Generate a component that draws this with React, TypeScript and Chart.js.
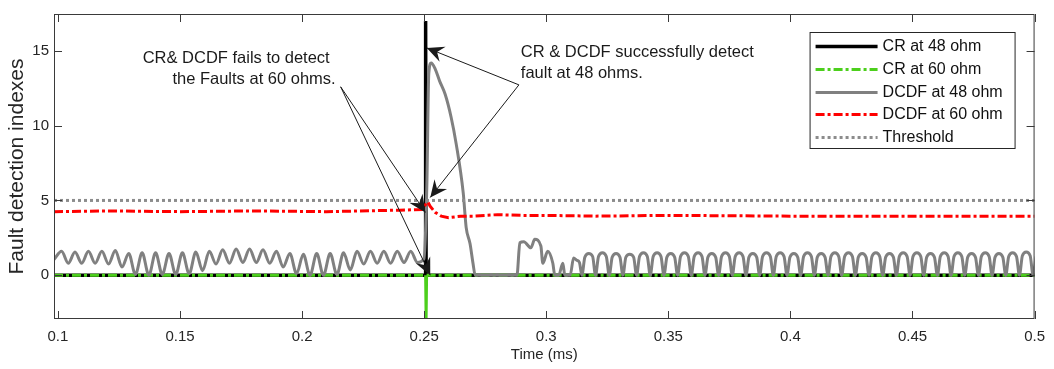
import React, { useEffect, useRef } from "react";
import { Chart, registerables } from "chart.js";

Chart.register(...registerables);

const X_MIN = 0.0984;
const X_MAX = 0.5;
const Y_MIN = -2.93;
const Y_MAX = 17.47;

const xTicks = [0.1, 0.15, 0.2, 0.25, 0.3, 0.35, 0.4, 0.45, 0.5];
const yTicks = [0, 5, 10, 15];

const seriesNames = ["CR at 48 ohm", "CR at 60 ohm", "DCDF at 48 ohm", "DCDF at 60 ohm", "Threshold"];

const cr48T = [0.0984, 0.2504, 0.2506, 0.2508, 0.5];
const cr48V = [0, 0, 17.0, 0, 0];

const cr60T = [0.0984, 0.2506, 0.2508, 0.251, 0.5];
const cr60V = [0, 0, -2.9, 0, 0];

const dcdf48T = [
  0.0984, 0.1015, 0.10425, 0.107, 0.10975, 0.1125, 0.11525, 0.118, 0.12075, 0.1235, 0.12625,
  0.129, 0.13175, 0.1345, 0.13725, 0.14, 0.14275, 0.1455, 0.14825, 0.151, 0.15375,
  0.1565, 0.15925, 0.162, 0.16475, 0.1675, 0.17025, 0.173, 0.17575, 0.1785, 0.18125,
  0.184, 0.18675, 0.1895, 0.19225, 0.195, 0.19775, 0.2005, 0.20325, 0.206, 0.20875,
  0.2115, 0.21425, 0.217, 0.21975, 0.2225, 0.22525, 0.228, 0.23075, 0.2335, 0.23625,
  0.239, 0.24175, 0.2445, 0.24725,
  0.2499, 0.2511, 0.2519, 0.2529, 0.2545, 0.2563, 0.2586, 0.261, 0.2631, 0.266, 0.2672,
  0.2688, 0.27, 0.2709, 0.288,
  0.2892, 0.2908, 0.2937, 0.2953, 0.2978, 0.2986, 0.3006, 0.3027, 0.3035, 0.3051,
  0.3068, 0.3076, 0.3098, 0.3112, 0.3125, 0.3136,
  0.3146, 0.3158, 0.3174, 0.319,
  0.3202, 0.3214, 0.323, 0.3246,
  0.3258, 0.327, 0.3286, 0.3302,
  0.3314, 0.3326, 0.3342, 0.3358,
  0.337, 0.3382, 0.3398, 0.3414,
  0.3426, 0.3438, 0.3454, 0.347,
  0.3482, 0.3494, 0.351, 0.3526,
  0.3538, 0.355, 0.3566, 0.3582,
  0.3594, 0.3606, 0.3622, 0.3638,
  0.365, 0.3662, 0.3678, 0.3694,
  0.3706, 0.3718, 0.3734, 0.375,
  0.3762, 0.3774, 0.379, 0.3806,
  0.3818, 0.383, 0.3846, 0.3862,
  0.3874, 0.3886, 0.3902, 0.3918,
  0.393, 0.3942, 0.3958, 0.3974,
  0.3986, 0.3998, 0.4014, 0.403,
  0.4042, 0.4054, 0.407, 0.4086,
  0.4098, 0.411, 0.4126, 0.4142,
  0.4154, 0.4166, 0.4182, 0.4198,
  0.421, 0.4222, 0.4238, 0.4254,
  0.4266, 0.4278, 0.4294, 0.431,
  0.4322, 0.4334, 0.435, 0.4366,
  0.4378, 0.439, 0.4406, 0.4422,
  0.4434, 0.4446, 0.4462, 0.4478,
  0.449, 0.4502, 0.4518, 0.4534,
  0.4546, 0.4558, 0.4574, 0.459,
  0.4602, 0.4614, 0.463, 0.4646,
  0.4658, 0.467, 0.4686, 0.4702,
  0.4714, 0.4726, 0.4742, 0.4758,
  0.477, 0.4782, 0.4798, 0.4814,
  0.4826, 0.4838, 0.4854, 0.487,
  0.4882, 0.4894, 0.491, 0.4926,
  0.4938, 0.495, 0.4966, 0.4982,
  0.4994, 0.5006,
];

const dcdf48V = [
  1.05, 1.6, 0.8, 1.55, 0.8, 1.6, 0.8, 1.6, 0.75, 1.65, 0.55,
  1.45, 0.05, 1.5, 0.0, 1.5, 0.05, 1.45, 0.05, 1.5, 0.1,
  1.55, 0.3, 1.6, 0.75, 1.7, 0.8, 1.75, 0.85, 1.75, 0.85,
  1.7, 0.8, 1.6, 0.55, 1.45, 0.1, 1.4, 0.0, 1.45, 0.0,
  1.45, 0.05, 1.5, 0.35, 1.6, 0.75, 1.6, 0.8, 1.6, 0.8,
  1.6, 0.85, 1.6, 0.85,
  1.1, 6.0, 13.5, 14.2, 13.8, 13.0, 12.1, 10.6, 8.8, 5.5, 3.2,
  2.1, 0.8, 0.0, 0.0,
  2.17, 2.24, 1.83, 2.4, 1.95, 0.8, 1.6, 0.8, 0.0, 0.0,
  0.8, 0.0, 0.0, 1.15, 1.0, 0.85,
  0, 1.2, 1.45, 1.25,
  0, 1.25, 1.5, 1.25,
  0, 1.2, 1.45, 1.2,
  0, 1.2, 1.4, 1.2,
  0, 1.25, 1.5, 1.25,
  0, 1.25, 1.5, 1.25,
  0, 1.2, 1.45, 1.2,
  0, 1.25, 1.5, 1.25,
  0, 1.25, 1.5, 1.25,
  0, 1.2, 1.45, 1.2,
  0, 1.25, 1.5, 1.25,
  0, 1.25, 1.5, 1.25,
  0, 1.2, 1.45, 1.2,
  0, 1.25, 1.5, 1.25,
  0, 1.25, 1.5, 1.25,
  0, 1.2, 1.45, 1.2,
  0, 1.25, 1.5, 1.25,
  0, 1.2, 1.45, 1.2,
  0, 1.25, 1.5, 1.25,
  0, 1.25, 1.5, 1.25,
  0, 1.2, 1.45, 1.2,
  0, 1.25, 1.5, 1.25,
  0, 1.2, 1.45, 1.2,
  0, 1.25, 1.5, 1.25,
  0, 1.25, 1.5, 1.25,
  0, 1.2, 1.45, 1.2,
  0, 1.25, 1.5, 1.25,
  0, 1.25, 1.5, 1.25,
  0, 1.2, 1.45, 1.2,
  0, 1.25, 1.5, 1.25,
  0, 1.2, 1.45, 1.2,
  0, 1.25, 1.5, 1.25,
  0, 1.3, 1.55, 1.3,
  0, 1.25,
];

const dcdf60T = [0.0984, 0.12, 0.15, 0.18, 0.21, 0.24, 0.249, 0.2505, 0.2515, 0.2525, 0.2545, 0.257, 0.26, 0.265, 0.27, 0.28, 0.29, 0.3, 0.32, 0.35, 0.4, 0.45, 0.5];
const dcdf60V = [4.25, 4.3, 4.25, 4.3, 4.25, 4.35, 4.4, 4.7, 4.9, 4.6, 4.2, 3.95, 3.85, 3.95, 3.95, 4.05, 4.0, 4.0, 3.95, 4.0, 3.95, 3.95, 3.95];

const thresholdT = [0.0984, 0.5];
const thresholdV = [5, 5];

const FONT = "'Liberation Sans', Arial, Helvetica, sans-serif";

const toPts = (t: number[], v: number[]) => t.map((x, i) => ({ x, y: v[i] }));

function drawArrow(ctx: CanvasRenderingContext2D, x1: number, y1: number, x2: number, y2: number) {
  ctx.beginPath();
  ctx.moveTo(x1, y1);
  ctx.lineTo(x2, y2);
  ctx.stroke();
  const ang = Math.atan2(y2 - y1, x2 - x1);
  const L = 17;
  const W = 8;
  const N = 11;
  const c = Math.cos(ang);
  const s = Math.sin(ang);
  const pt = (bx: number, by: number) => [x2 + bx * c - by * s, y2 + bx * s + by * c];
  const p1 = pt(-L, W);
  const p2 = pt(-N, 0);
  const p3 = pt(-L, -W);
  ctx.beginPath();
  ctx.moveTo(x2, y2);
  ctx.lineTo(p1[0], p1[1]);
  ctx.lineTo(p2[0], p2[1]);
  ctx.lineTo(p3[0], p3[1]);
  ctx.closePath();
  ctx.fill();
}

const overlayPlugin = {
  id: "overlay",
  afterDatasetsDraw(chart: any) {
    const { ctx, chartArea: a, scales } = chart;
    const xs = scales.x;
    const ys = scales.y;
    ctx.save();
    ctx.strokeStyle = "#3a3a3a";
    ctx.lineWidth = 1;
    ctx.strokeRect(a.left + 0.5, a.top + 0.5, a.right - a.left - 1, a.bottom - a.top - 1);
    ctx.beginPath();
    for (const v of xTicks) {
      const px = Math.round(xs.getPixelForValue(v)) + 0.5;
      ctx.moveTo(px, a.bottom);
      ctx.lineTo(px, a.bottom - 8);
      ctx.moveTo(px, a.top);
      ctx.lineTo(px, a.top + 8);
    }
    for (const v of yTicks) {
      const py = Math.round(ys.getPixelForValue(v)) + 0.5;
      ctx.moveTo(a.left, py);
      ctx.lineTo(a.left + 8, py);
      ctx.moveTo(a.right, py);
      ctx.lineTo(a.right - 8, py);
    }
    ctx.stroke();

    ctx.fillStyle = "#1a1a1a";
    ctx.strokeStyle = "#1a1a1a";
    ctx.lineWidth = 1;
    ctx.font = `16.5px ${FONT}`;
    ctx.textBaseline = "middle";
    ctx.textAlign = "left";
    const P = (t: number, v: number) => [xs.getPixelForValue(t), ys.getPixelForValue(v)];
    const texts: [string, number, number][] = [
      ["CR& DCDF fails to detect", 0.1347, 14.47],
      ["the Faults at 60 ohms.", 0.1469, 13.07],
      ["CR & DCDF successfully detect", 0.2896, 14.87],
      ["fault at 48 ohms.", 0.2896, 13.47],
    ];
    for (const [txt, t, v] of texts) {
      const [px, py] = P(t, v);
      ctx.fillText(txt, px, py);
    }
    const arrows: [number, number, number, number][] = [
      [0.2158, 12.6, 0.2505, 4.2],
      [0.2158, 12.6, 0.2525, 0],
      [0.2888, 12.73, 0.2511, 15.2],
      [0.2888, 12.73, 0.2525, 5.2],
    ];
    for (const [t1, v1, t2, v2] of arrows) {
      const [x1, y1] = P(t1, v1);
      const [x2, y2] = P(t2, v2);
      drawArrow(ctx, x1, y1, x2, y2);
    }

    const lw = 205;
    const lh = 116;
    const lx = a.right - 20 - lw;
    const ly = a.top + 18;
    ctx.fillStyle = "#ffffff";
    ctx.fillRect(lx, ly, lw, lh);
    ctx.strokeStyle = "#262626";
    ctx.lineWidth = 1;
    ctx.strokeRect(lx + 0.5, ly + 0.5, lw, lh);
    ctx.font = `16px ${FONT}`;
    chart.data.datasets.forEach((ds: any, i: number) => {
      const ry = Math.round(ly + 14 + i * 22.75) + 0.5;
      ctx.save();
      ctx.strokeStyle = ds.borderColor;
      ctx.lineWidth = ds.borderWidth;
      ctx.setLineDash(ds.borderDash || []);
      ctx.beginPath();
      ctx.moveTo(lx + 6, ry);
      ctx.lineTo(lx + 68, ry);
      ctx.stroke();
      ctx.restore();
      ctx.fillStyle = "#111";
      ctx.fillText(ds.label, lx + 73, ry);
    });
    ctx.restore();
  },
};

export default function App() {
  const ref = useRef<HTMLCanvasElement>(null);
  useEffect(() => {
    document.body.style.margin = "0";
    const canvas = ref.current!;
    const base = { pointRadius: 0, fill: false, borderCapStyle: "butt" as const, tension: 0 };
    const solidOnJump = {
      borderDash: (c: any) => (Math.abs(c.p0.parsed.y - c.p1.parsed.y) > 1 ? [] : undefined),
    };
    const chart = new Chart(canvas, {
      type: "line",
      data: {
        datasets: [
          { ...base, label: seriesNames[0], data: toPts(cr48T, cr48V), borderColor: "#000000", borderWidth: 3.5, order: 5 },
          { ...base, label: seriesNames[1], data: toPts(cr60T, cr60V), borderColor: "#4ccf1c", borderWidth: 3, borderDash: [9, 3, 3, 3], segment: solidOnJump, order: 4 },
          { ...base, label: seriesNames[2], data: toPts(dcdf48T, dcdf48V), borderColor: "#808080", borderWidth: 3, cubicInterpolationMode: "monotone", order: 3 },
          { ...base, label: seriesNames[3], data: toPts(dcdf60T, dcdf60V), borderColor: "#ff0000", borderWidth: 3, borderDash: [9, 3, 3, 3], order: 2 },
          { ...base, label: seriesNames[4], data: toPts(thresholdT, thresholdV), borderColor: "#8c8c8c", borderWidth: 3, borderDash: [3, 3], order: 1 },
        ] as any,
      },
      options: {
        responsive: false,
        animation: false,
        devicePixelRatio: 1,
        events: [],
        layout: { padding: { left: 0, top: 13, right: 15, bottom: 0 } },
        plugins: { legend: { display: false }, tooltip: { enabled: false } },
        scales: {
          x: {
            type: "linear",
            min: X_MIN,
            max: X_MAX,
            afterBuildTicks: (s: any) => {
              s.ticks = xTicks.map((v) => ({ value: v }));
            },
            afterFit: (s: any) => {
              s.height = 50;
            },
            grid: { display: false, drawTicks: false },
            border: { display: false },
            ticks: {
              autoSkip: false,
              maxRotation: 0,
              padding: 9,
              color: "#262626",
              font: { family: FONT, size: 15 },
              callback: (v: any) => String(v),
            },
            title: {
              display: true,
              text: "Time (ms)",
              color: "#262626",
              font: { family: FONT, size: 15 },
              padding: { top: 0, bottom: 5 },
            },
          },
          y: {
            type: "linear",
            min: Y_MIN,
            max: Y_MAX,
            afterBuildTicks: (s: any) => {
              s.ticks = yTicks.map((v) => ({ value: v }));
            },
            afterFit: (s: any) => {
              s.width = 54;
            },
            grid: { display: false, drawTicks: false },
            border: { display: false },
            ticks: {
              autoSkip: false,
              padding: 5,
              color: "#262626",
              font: { family: FONT, size: 15 },
              callback: (v: any) => String(v),
            },
            title: {
              display: true,
              text: "Fault detection indexes",
              color: "#262626",
              font: { family: FONT, size: 21 },
              padding: { top: 5, bottom: 0 },
            },
          },
        },
      },
      plugins: [overlayPlugin],
    });
    return () => chart.destroy();
  }, []);
  return (
    <div style={{ width: 1054, height: 369 }}>
      <canvas ref={ref} width={1054} height={369} style={{ display: "block" }} />
    </div>
  );
}
